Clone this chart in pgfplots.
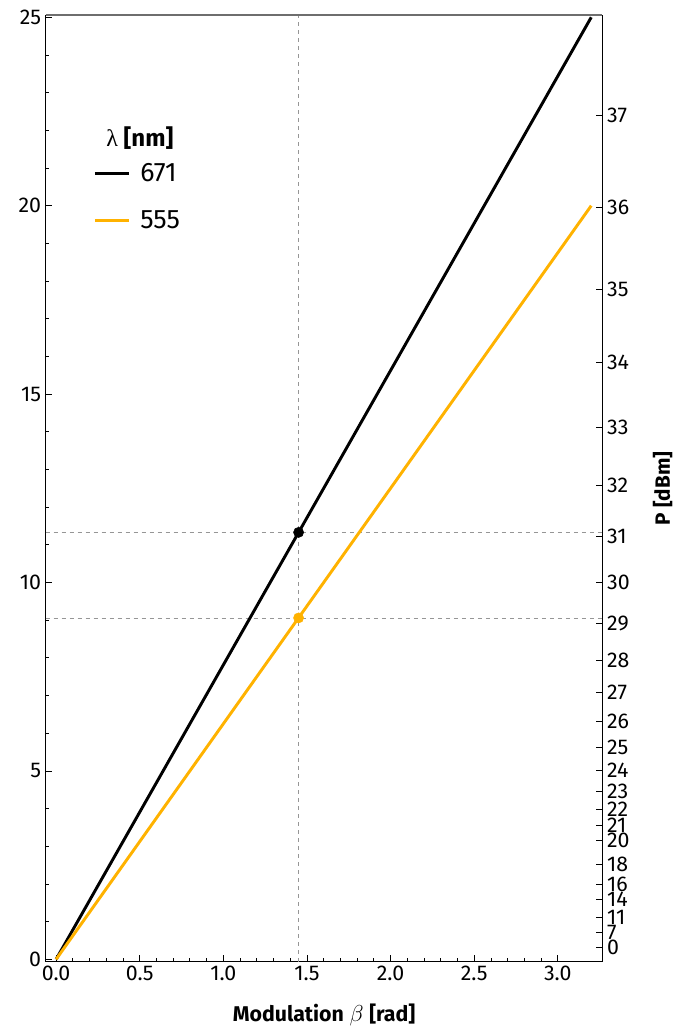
\documentclass[border=0pt]{standalone}
\usepackage{fontspec}
\setmainfont{Fira Sans}
\newfontfamily\serifgreek{Liberation Serif}
\usepackage{pgfplots}
\pgfplotsset{compat=1.18}
\newcommand\tickfont{\fontsize{16}{19}\selectfont}
\definecolor{myorange}{RGB}{255,178,0}
\definecolor{dashgray}{RGB}{150,150,150}
\definecolor{framegray}{RGB}{110,110,110}
\begin{document}
\begin{tikzpicture}
\begin{axis}[
  at={(0pt,0pt)}, anchor=south west,
  scale only axis, width=417.5pt, height=710pt,
  xmin=-0.062, xmax=3.267, ymin=-0.064, ymax=25.06,
  axis x line*=bottom, axis y line*=left,
  axis line style={-, black, line width=0.8pt},
  tick align=inside,
  xtick={0,0.5,1,1.5,2,2.5,3}, minor x tick num=4,
  ytick={0,5,10,15,20,25}, minor y tick num=4,
  xticklabel={\tickfont\pgfmathprintnumber[fixed,fixed zerofill,precision=1,assume math mode=true]{\tick}},
  yticklabel={\tickfont\pgfmathprintnumber[assume math mode=true]{\tick}},
  major tick length=5pt, minor tick length=2.5pt,
  tick style={black, line width=0.6pt},
  x tick label style={font=\tickfont},
  y tick label style={font=\tickfont},
  /pgf/number format/assume math mode=true,
  xlabel={\textbf{Modulation} $\beta$ \textbf{[rad]}},
  xlabel style={font=\fontsize{16}{19}\selectfont, at={(0.5,0)}, anchor=base, yshift=-45pt},
  legend style={at={(0.085,0.846)}, anchor=north west, draw=none, fill=none,
    font=\fontsize{20}{23}\selectfont, row sep=16pt, column sep=5pt, inner sep=0pt,
    cells={anchor=west}},
  legend image code/.code={\draw[#1] (0pt,0pt) -- (26pt,0pt);},
  clip=false,
]
\addplot[dashgray, dashed, line width=0.6pt, forget plot] coordinates {(1.45,-0.064) (1.45,25.06)};
\addplot[dashgray, dashed, line width=0.6pt, forget plot] coordinates {(-0.062,11.33) (3.267,11.33)};
\addplot[dashgray, dashed, line width=0.6pt, forget plot] coordinates {(-0.062,9.06) (3.267,9.06)};
\addplot[black, line width=2.2pt] coordinates {(0,0) (3.2,25)};
\addlegendentry{671}
\addplot[myorange, line width=2.2pt] coordinates {(0,0) (3.2,20)};
\addlegendentry{555}
\addplot[only marks, mark=*, mark size=3.8pt, black, forget plot] coordinates {(1.45,11.33)};
\addplot[only marks, mark=*, mark size=3.8pt, myorange, forget plot] coordinates {(1.45,9.06)};
\node[font=\fontsize{18}{21}\selectfont\bfseries] at (rel axis cs:0.169,0.870) {{\serifgreek\mdseries λ} [nm]};
\end{axis}
\begin{axis}[
  at={(0pt,0pt)}, anchor=south west,
  scale only axis, width=417.5pt, height=710pt,
  xmin=-0.062, xmax=3.267, ymin=-0.064, ymax=25.06,
  axis y line*=right, axis x line*=top,
  y axis line style={-, black, line width=0.8pt},
  x axis line style={-, framegray, line width=0.8pt},
  xtick=\empty,
  tick align=inside, major tick length=4.7pt,
  tick style={black, line width=0.6pt},
  ytick={0.3162,0.7079,1.1220,1.5849,1.9953,2.5119,3.1623,3.5481,3.9811,4.4668,5.0119,5.6234,6.3096,7.0795,7.9433,8.9125,10.0,11.2202,12.5893,14.1254,15.8489,17.7828,19.9526,22.3872},
  yticklabels={{\tickfont 0},{\tickfont 7},{\tickfont 11},{\tickfont 14},{\tickfont 16},{\tickfont 18},{\tickfont 20},{\tickfont 21},{\tickfont 22},{\tickfont 23},{\tickfont 24},{\tickfont 25},{\tickfont 26},{\tickfont 27},{\tickfont 28},{\tickfont 29},{\tickfont 30},{\tickfont 31},{\tickfont 32},{\tickfont 33},{\tickfont 34},{\tickfont 35},{\tickfont 36},{\tickfont 37}},
  y tick label style={font=\tickfont, anchor=west},
  ylabel={\textbf{P [dBm]}},
  ylabel style={font=\fontsize{15.5}{18}\selectfont, at={(1.108,0.5)}, anchor=center},
]
\end{axis}
\pgfresetboundingbox
\useasboundingbox (-34.3pt,-48.2pt) rectangle (479.5pt,721.25pt);
\end{tikzpicture}
\end{document}
